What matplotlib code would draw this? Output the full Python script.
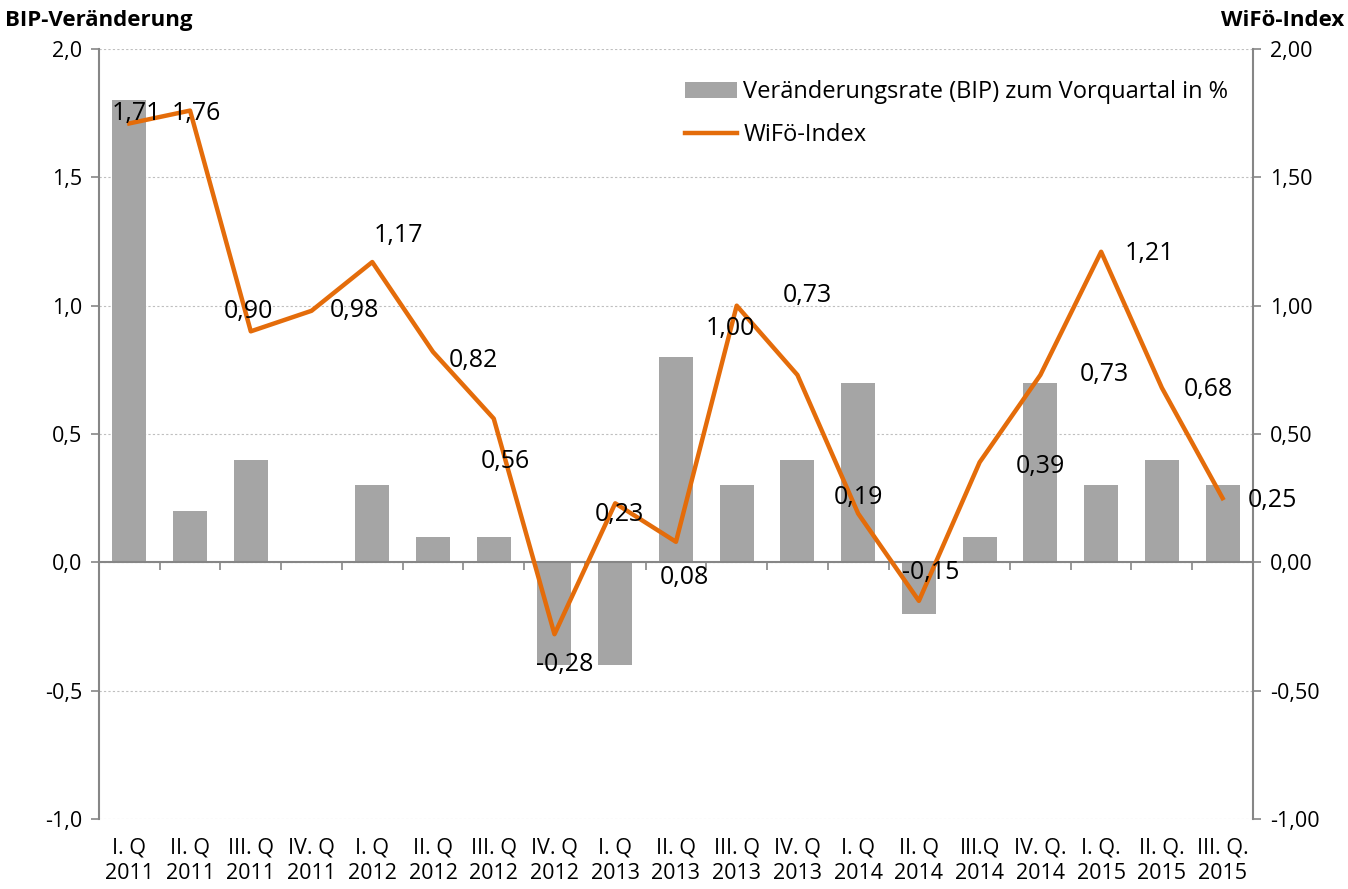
import numpy as np
import matplotlib
matplotlib.use("Agg")
import matplotlib.pyplot as plt
from matplotlib.ticker import FuncFormatter, MultipleLocator

plt.rcParams['font.family'] = ['Open Sans', 'DejaVu Sans']

# Data
quarters = ["I. Q\n2011", "II. Q\n2011", "III. Q\n2011", "IV. Q\n2011",
            "I. Q\n2012", "II. Q\n2012", "III. Q\n2012", "IV. Q\n2012",
            "I. Q\n2013", "II. Q\n2013", "III. Q\n2013", "IV. Q\n2013",
            "I. Q\n2014", "II. Q\n2014", "III.Q\n2014", "IV. Q.\n2014",
            "I. Q.\n2015", "II. Q.\n2015", "III. Q.\n2015"]
bip = [1.8, 0.2, 0.4, 0.0, 0.3, 0.1, 0.1, -0.4, -0.4, 0.8,
       0.3, 0.4, 0.7, -0.2, 0.1, 0.7, 0.3, 0.4, 0.3]
wifo = [1.71, 1.76, 0.90, 0.98, 1.17, 0.82, 0.56, -0.28, 0.23, 0.08,
        1.00, 0.73, 0.19, -0.15, 0.39, 0.73, 1.21, 0.68, 0.25]

# label offsets in pixels (dx, dy up)
label_offsets = [(7, 10), (6, -3), (-2, 20), (43, 0), (26, 27), (40, -9),
                 (12, -43), (10, -30), (4, -11), (8, -36), (-6, -23), (10, 79),
                 (0, 16), (12, 28), (61, -4), (64, 0), (48, -2), (47, -2), (50, -2)]

bar_color = '#A5A5A5'
line_color = '#E46C0A'
axis_color = '#868686'

fig = plt.figure(figsize=(13.48, 8.89), dpi=100)
ax = fig.add_axes([0.0734, 0.0787, 0.8561, 0.8662])
x = np.arange(len(quarters))

ax.bar(x, bip, width=0.56, color=bar_color, zorder=2,
       label='Veränderungsrate (BIP) zum Vorquartal in %')
ax.set_xlim(-0.5, len(quarters) - 0.5)
ax.set_ylim(-1.0, 2.0)
ax.yaxis.set_major_locator(MultipleLocator(0.5))
ax.yaxis.set_major_formatter(FuncFormatter(lambda v, p: f"{v:.1f}".replace('.', ',')))
ax.grid(axis='y', color='#BFBFBF', linestyle=(0, (2, 2)), linewidth=0.8, zorder=0)

# Zero line as bottom spine with category boundary ticks
ax.spines['bottom'].set_position(('data', 0))
ax.spines['bottom'].set_color(axis_color)
ax.spines['bottom'].set_linewidth(1.5)
ax.spines['top'].set_visible(False)
ax.spines['right'].set_visible(False)
ax.spines['left'].set_color(axis_color)
ax.spines['left'].set_linewidth(1.5)
ax.set_xticks(np.arange(-0.5, len(quarters), 1))
ax.set_xticklabels([])
ax.tick_params(axis='x', length=6, width=1.2, color=axis_color, direction='out')
ax.tick_params(axis='y', length=6, width=1.2, color=axis_color, labelsize=15.5, pad=6)

# Category labels at the bottom of the axes
sec = ax.secondary_xaxis('bottom')
sec.set_xticks(x)
sec.set_xticklabels(quarters, fontsize=15.5, linespacing=1.3)
sec.tick_params(length=0, pad=13)
sec.spines['bottom'].set_visible(False)

ax2 = ax.twinx()
ax2.plot(x, wifo, color=line_color, linewidth=3.2, zorder=3, label='WiFö-Index')
ax2.set_ylim(-1.0, 2.0)
ax2.yaxis.set_major_locator(MultipleLocator(0.5))
ax2.yaxis.set_major_formatter(FuncFormatter(lambda v, p: f"{v:.2f}".replace('.', ',')))
for s in ['top', 'left', 'bottom']:
    ax2.spines[s].set_visible(False)
ax2.spines['right'].set_color(axis_color)
ax2.spines['right'].set_linewidth(1.5)
ax2.tick_params(axis='y', length=6, width=1.2, color=axis_color, labelsize=15.5, pad=6)

for xi, v, (dx, dy) in zip(x, wifo, label_offsets):
    ax2.annotate(f"{v:.2f}".replace('.', ','), (xi, v), xytext=(dx, dy),
                 textcoords='offset pixels', ha='center', va='center', fontsize=18,
                 zorder=4)

h1, l1 = ax.get_legend_handles_labels()
h2, l2 = ax2.get_legend_handles_labels()
ax2.legend(h1 + h2, l1 + l2, loc='upper right', bbox_to_anchor=(0.997, 0.987),
           frameon=False, fontsize=17, handlelength=2.2, handletextpad=0.25,
           labelspacing=0.8)

fig.text(0.004, 0.977, 'BIP-Veränderung', fontsize=16, fontweight='bold',
         ha='left', va='center')
fig.text(0.997, 0.977, 'WiFö-Index', fontsize=16, fontweight='bold',
         ha='right', va='center')

fig.savefig('out.png', dpi=100)
